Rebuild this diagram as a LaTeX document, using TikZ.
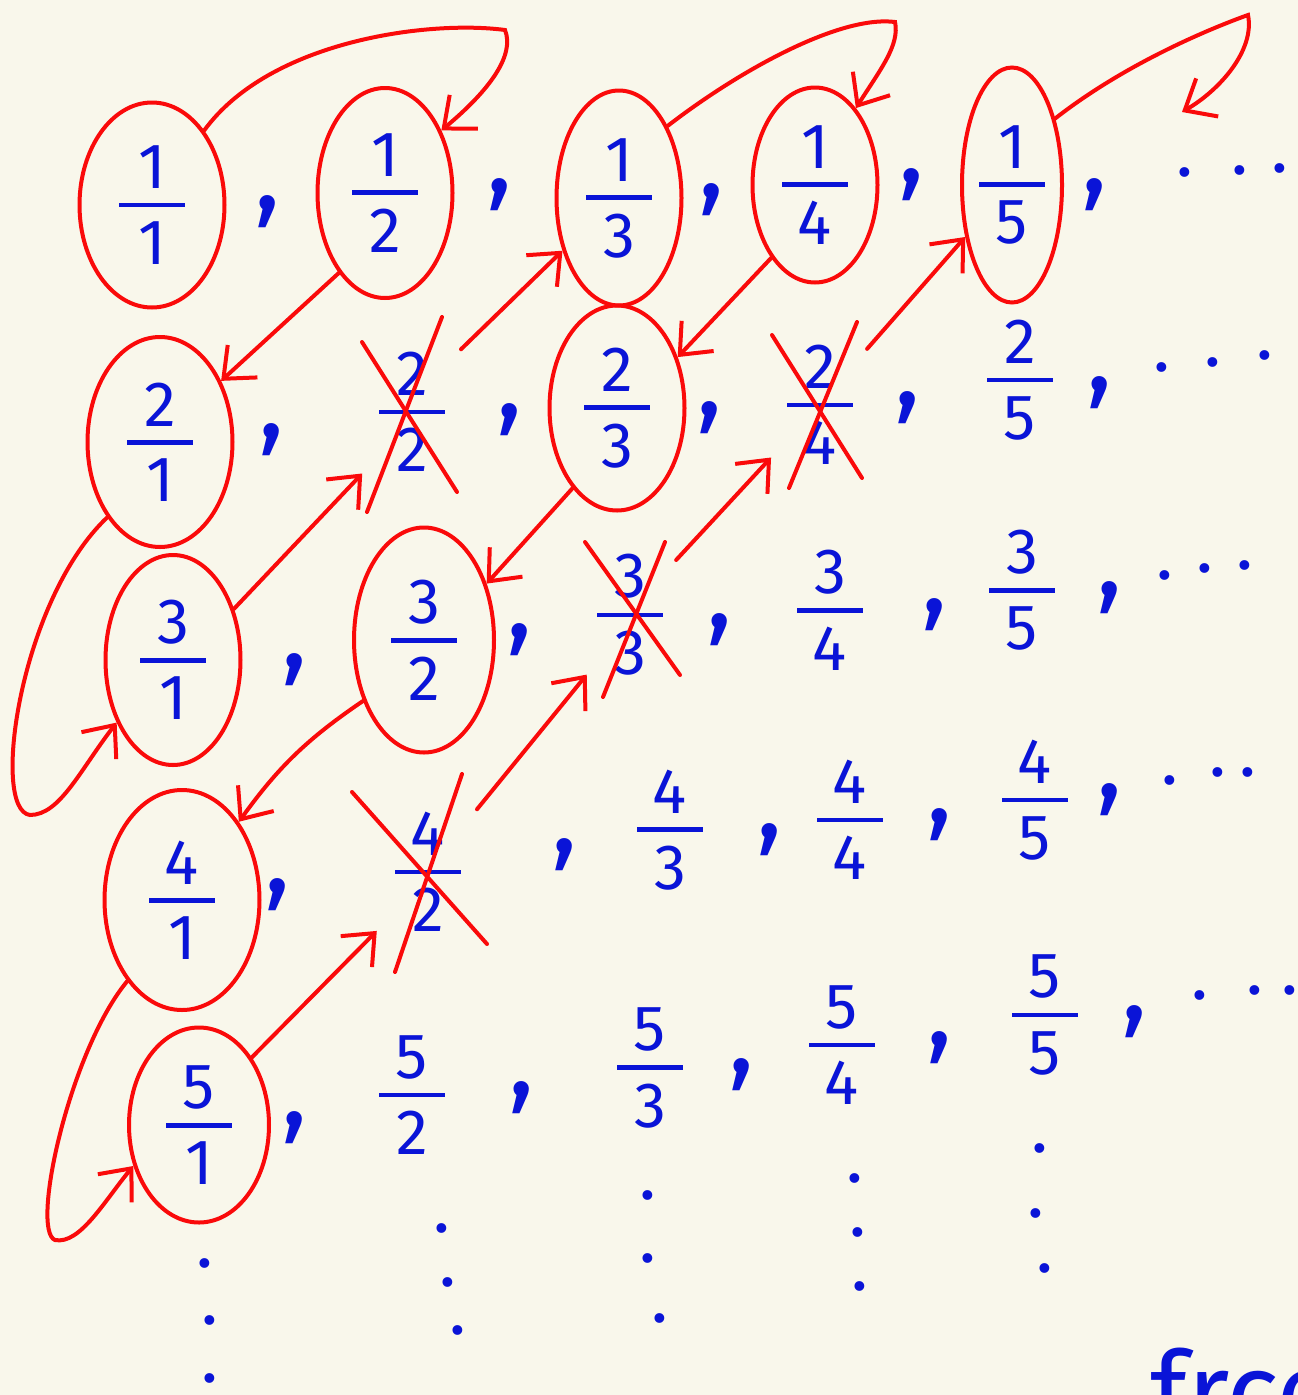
\documentclass[tikz,border=0pt]{standalone}
\usepackage{fontspec}
\setmainfont{Fira Sans}
\usetikzlibrary{shapes.geometric,arrows.meta,calc}
\definecolor{paper}{RGB}{249,247,235}
\definecolor{ink}{RGB}{10,20,215}
\definecolor{pen}{RGB}{250,10,10}
\newcommand{\fr}[2]{\vbox{\hbox to 66pt{\hss#1\hss}\kern14pt\hrule height 4.5pt\kern14pt\hbox to 66pt{\hss#2\hss}}}
\tikzset{
 frac/.style={ellipse, inner sep=0pt, text=ink, font=\fontsize{64}{70}\selectfont},
 ring/.style={frac, draw=pen, line width=4pt},
 strike/.style={draw=pen, line width=4pt, line cap=round},
 arr/.style={draw=pen, line width=4pt, line cap=round, -{Straight Barb[length=26pt,width=44pt]}},
 comma/.style={inner sep=0pt, text=ink, font=\fontsize{110}{110}\selectfont},
 dot/.style={inner sep=0pt, text=ink, font=\fontsize{70}{70}\selectfont},
}
\begin{document}
\begin{tikzpicture}[x=1pt,y=-1pt]
\useasboundingbox (0,0) rectangle (1298,1395);
\fill[paper] (0,0) rectangle (1298,1395);
\clip (0,0) rectangle (1298,1395);
% row 1
\node[ring,minimum width=145pt,minimum height=205pt] (n11) at (152,205) {\fr{1}{1}};
\node[ring,minimum width=135pt,minimum height=210pt] (n12) at (385,193) {\fr{1}{2}};
\node[ring,minimum width=125pt,minimum height=215pt] (n13) at (619,198) {\fr{1}{3}};
\node[ring,minimum width=125pt,minimum height=195pt] (n14) at (815,185) {\fr{1}{4}};
\node[ring,minimum width=100pt,minimum height=235pt] (n15) at (1012,185) {\fr{1}{5}};
% row 2
\node[ring,minimum width=145pt,minimum height=210pt] (n21) at (160,442) {\fr{2}{1}};
\node[frac,minimum width=130pt,minimum height=190pt] (n22) at (412,412) {\fr{2}{2}};
\node[ring,minimum width=135pt,minimum height=205pt] (n23) at (617,408) {\fr{2}{3}};
\node[frac,minimum width=120pt,minimum height=180pt] (n24) at (820,405) {\fr{2}{4}};
\node[frac] (n25) at (1020,380) {\fr{2}{5}};
% row 3
\node[ring,minimum width=135pt,minimum height=210pt] (n31) at (173,660) {\fr{3}{1}};
\node[ring,minimum width=140pt,minimum height=225pt] (n32) at (424,640) {\fr{3}{2}};
\node[frac,minimum width=120pt,minimum height=170pt] (n33) at (630,615) {\fr{3}{3}};
\node[frac] (n34) at (830,610) {\fr{3}{4}};
\node[frac] (n35) at (1022,590) {\fr{3}{5}};
% row 4
\node[ring,minimum width=155pt,minimum height=220pt] (n41) at (182,900) {\fr{4}{1}};
\node[frac,minimum width=130pt,minimum height=190pt] (n42) at (428,872) {\fr{4}{2}};
\node[frac] (n43) at (670,830) {\fr{4}{3}};
\node[frac] (n44) at (850,820) {\fr{4}{4}};
\node[frac] (n45) at (1035,800) {\fr{4}{5}};
% row 5
\node[ring,minimum width=140pt,minimum height=195pt] (n51) at (199,1125) {\fr{5}{1}};
\node[frac] (n52) at (412,1095) {\fr{5}{2}};
\node[frac] (n53) at (650,1068) {\fr{5}{3}};
\node[frac] (n54) at (842,1045) {\fr{5}{4}};
\node[frac] (n55) at (1045,1015) {\fr{5}{5}};
% strike-outs
\draw[strike] ($(n22)+(-50,-70)$) -- ($(n22)+(45,80)$);
\draw[strike] ($(n22)+(30,-95)$) -- ($(n22)+(-45,100)$);
\draw[strike] ($(n24)+(-48,-70)$) -- ($(n24)+(42,73)$);
\draw[strike] ($(n24)+(37,-83)$) -- ($(n24)+(-31,83)$);
\draw[strike] ($(n33)+(-45,-73)$) -- ($(n33)+(50,60)$);
\draw[strike] ($(n33)+(35,-73)$) -- ($(n33)+(-27,82)$);
\draw[strike] ($(n42)+(-76,-80)$) -- ($(n42)+(59,72)$);
\draw[strike] ($(n42)+(34,-98)$) -- ($(n42)+(-33,100)$);
% commas
\foreach \x/\y [count=\i] in {268/212,500/195,712/200,912/185,1095/195,
  272/440,510/420,710/418,908/408,1100/393,
  295/670,520/640,720/630,935/615,1110/598,
  278/895,565/855,770/840,940/825,1110/800,
  295/1128,522/1098,742/1075,940/1048,1135/1022}
  \node[comma] (c\i) at (\x,\y) {,};
% dots
\foreach \x/\y [count=\i] in {1185/172,1240/170,1280/168,
  1162/367,1213/362,1265/355,
  1165/575,1205/568,1245/565,
  1170/780,1218/772,1248/772,
  1200/995,1255/990,1290/990,
  205/1263,210/1320,210/1378,
  442/1228,448/1282,458/1330,
  648/1195,648/1258,660/1318,
  855/1178,858/1232,860/1286,
  1040/1148,1036/1213,1045/1268}
  \node[dot] (d\i) at (\x,\y) {.};
% arrows
\coordinate (next) at (1182,112);
\draw[arr] (n11.55) .. controls (270,40) and (430,20) .. (505,30) .. controls (515,55) and (490,90) .. (n12.48);
\draw[arr] (n12.240) -- (n21.45);
\draw[arr] (n21.235) .. controls (20,600) and (-10,810) .. (30,815) .. controls (60,815) and (80,770) .. (n31.228);
\draw[arr] (n31.40) -- (n22.231);
\draw[arr] (n22.52) -- (n13.223);
\draw[arr] (n13.56) .. controls (740,70) and (840,15) .. (895,22) .. controls (900,45) and (880,70) .. (n14.62);
\draw[arr] (n14.239) -- (n23.40);
\draw[arr] (n23.241) -- (n32.42);
\draw[arr] (n32.225) to[bend right=10] (n41.54);
\draw[arr] (n41.236) .. controls (70,1050) and (30,1230) .. (55,1240) .. controls (80,1245) and (105,1200) .. (n51.212);
\draw[arr] (n51.52) -- (n42.229);
\draw[arr] (n42.52) -- (n33.234);
\draw[arr] (n33.50) -- (n24.227);
\draw[arr] (n24.50) -- (n15.228);
\draw[arr] (n15.57) .. controls (1130,60) and (1220,25) .. (1248,15) .. controls (1255,50) and (1220,90) .. (next);
% word at bottom right
\node[anchor=base west, inner sep=0pt, text=ink, font=\fontsize{110}{110}\selectfont] (word) at (1150,1430) {frce};
\end{tikzpicture}
\end{document}
